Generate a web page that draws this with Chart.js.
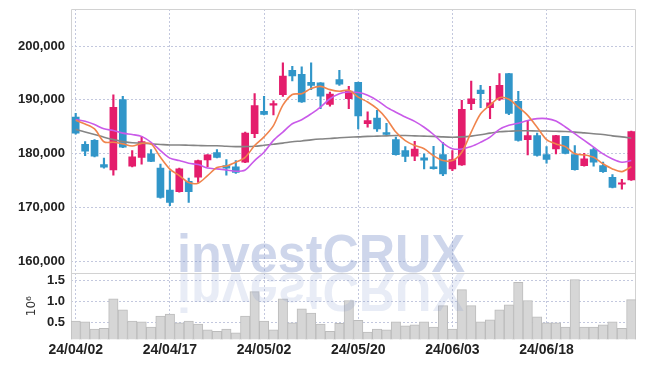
<!DOCTYPE html>
<html>
<head>
<meta charset="utf-8">
<script src="https://cdn.jsdelivr.net/npm/chart.js@4.4.1/dist/chart.umd.min.js"></script>
<style>
  html, body { margin: 0; padding: 0; background: #fff; }
  #wrap { width: 645px; height: 366px; }
</style>
</head>
<body>
<div id="wrap"><canvas id="myChart" width="645" height="366"></canvas></div>
<script>
// trading days shown on the chart
const dates = [
  "24/04/02","24/04/03","24/04/04","24/04/05","24/04/08","24/04/09","24/04/11","24/04/12","24/04/15","24/04/16",
  "24/04/17","24/04/18","24/04/19","24/04/22","24/04/23","24/04/24","24/04/25","24/04/26","24/04/29","24/04/30",
  "24/05/02","24/05/03","24/05/07","24/05/08","24/05/09","24/05/10","24/05/13","24/05/14","24/05/16","24/05/17",
  "24/05/20","24/05/21","24/05/22","24/05/23","24/05/24","24/05/27","24/05/28","24/05/29","24/05/30","24/05/31",
  "24/06/03","24/06/04","24/06/05","24/06/07","24/06/10","24/06/11","24/06/12","24/06/13","24/06/14","24/06/17",
  "24/06/18","24/06/19","24/06/20","24/06/21","24/06/24","24/06/25","24/06/26","24/06/27","24/06/28","24/07/01"
];

const openP = [
  186800,181700,182450,177950,176950,190050,177650,179300,179950,177300,
  173200,172900,174850,175600,178800,180200,177750,177550,178400,183700,
  187850,189000,190950,195500,194750,193250,193150,189150,193750,190200,
  193250,185550,186600,183900,182600,180550,179500,179200,177550,179800,
  177150,177900,189300,191800,188550,190100,194900,189700,182600,183350,
  179800,180850,183200,179800,177750,180750,177750,175600,174300,175100
];
const highP = [
  187500,182250,182600,179150,190950,190650,180550,183200,180750,178050,
  176800,177300,175450,178800,179800,180750,178900,178700,184000,191150,
  190650,189800,196900,196250,196150,196900,193200,191450,195500,192500,
  193300,187750,188050,185650,183050,181300,182300,179950,181350,182100,
  180550,189900,193500,192700,192500,194900,194950,191600,186150,183800,
  181300,183400,183200,181500,180050,181050,178400,176100,175200,184200
];
const lowP = [
  183600,179600,179400,177300,176000,181100,177500,178050,178500,171700,
  170300,172800,170900,174650,177550,179200,176000,176300,178300,182950,
  187200,187200,190650,193500,189500,191900,188350,188800,192700,188350,
  184600,184900,184100,183500,179700,178500,178700,177150,177100,175900,
  176800,177800,188150,188550,186500,189900,187250,182300,179750,179500,
  178200,179950,179950,176900,177650,177650,176500,173600,173400,175000
];
const closeP = [
  183800,180450,179500,177450,188600,181200,179400,182250,178550,171850,
  170900,177150,172900,178700,179750,179300,177300,176500,183800,188950,
  187300,189100,194400,194450,189600,192700,190700,191050,192900,191650,
  187000,186150,184600,183550,179800,179450,180850,178750,177200,176200,
  178900,188250,190200,191150,189450,192700,187450,182450,183350,179650,
  178900,183350,180050,177000,179000,178400,176650,173700,174400,184100
];

// moving averages
const ma5 = [
  186200,185500,184600,182200,182100,181800,181400,181900,181800,179300,
  177100,175900,174600,174500,175900,177400,177700,178400,179300,181500,
  183100,185200,189000,191000,191150,192100,192500,191900,191600,191800,
  190500,189600,188350,186500,184000,182400,181500,180900,179600,178700,
  178700,180250,184000,187400,189000,190400,190100,188650,187100,184900,
  182600,181800,181300,179950,179750,179300,178100,177150,176650,177550
];
const ma20 = [
  186350,186000,185400,184600,184300,183800,183550,183200,182100,180550,
  179150,178700,178200,177950,177300,177150,176950,176700,176950,178700,
  180250,182450,184000,185550,186300,187400,188650,190200,191150,191450,
  191350,190850,189900,188650,187700,186800,186000,184900,183550,181950,
  180900,180850,181300,182100,183050,184500,185250,185650,186150,186500,
  186500,186050,184950,183700,182450,181200,179950,179000,178400,178700
];
const ma60 = [
  184500,184000,183550,183050,182600,182250,182000,181950,181800,181700,
  181600,181600,181550,181500,181450,181450,181350,181300,181300,181350,
  181550,181750,181950,182200,182350,182550,182700,182800,182950,183050,
  183100,183200,183250,183300,183350,183350,183300,183250,183200,183100,
  183050,183100,183250,183500,183800,184050,184150,184250,184250,184200,
  184200,184150,184100,184000,183850,183700,183550,183300,183100,182850
];

// volume, millions of shares
const volume = [
  0.53,0.51,0.34,0.36,1.06,0.80,0.53,0.51,0.39,0.65,
  0.70,0.49,0.53,0.46,0.32,0.29,0.34,0.25,0.65,1.23,
  0.53,0.32,1.06,0.49,0.82,0.72,0.46,0.29,0.48,1.02,
  0.55,0.27,0.34,0.32,0.51,0.42,0.44,0.51,0.39,0.90,
  0.34,1.28,0.90,0.51,0.56,0.80,0.92,1.45,1.02,0.63,
  0.49,0.49,0.39,1.52,0.39,0.39,0.44,0.51,0.36,1.04
];

const priceTicks = [160000, 170000, 180000, 190000, 200000];
const volTicks = [0.5, 1.0, 1.5];

const UP = "#e41d6c";
const DOWN = "#3196c9";
const GRID = "#c3c8de";
const yFont = { family: '"Liberation Sans", Arial, sans-serif', size: 13, weight: "bold" };
const xFont = { family: '"Liberation Sans", Arial, sans-serif', size: 14, weight: "bold" };

var candleColors = openP.map((o, i) => (closeP[i] >= o ? UP : DOWN));

// frame lines and the watermark
const framePlugin = {
  id: "framePlugin",
  beforeDatasetsDraw(chart) {
    const ctx = chart.ctx;
    const a = chart.chartArea;
    const sep = chart.scales.yVol.top;
    ctx.save();
    ctx.strokeStyle = "#d2d2d2";
    ctx.lineWidth = 1;
    ctx.beginPath();
    ctx.moveTo(a.left + 0.5, a.bottom);
    ctx.lineTo(a.left + 0.5, a.top + 0.5);
    ctx.lineTo(a.right - 0.5, a.top + 0.5);
    ctx.lineTo(a.right - 0.5, a.bottom);
    ctx.moveTo(a.left, Math.round(sep) + 0.5);
    ctx.lineTo(a.right, Math.round(sep) + 0.5);
    ctx.stroke();
    ctx.restore();
  },
  afterDatasetsDraw(chart) {
    const ctx = chart.ctx;
    const a = chart.chartArea;
    const base = chart.scales.yVol.top - 1;
    const cx = a.left + 250;
    ctx.save();
    ctx.font = 'bold 53px "Liberation Sans", sans-serif';
    ctx.textAlign = "center";
    ctx.textBaseline = "alphabetic";
    ctx.fillStyle = "rgba(120,140,200,0.36)";
    ctx.fillText("investCRUX", cx, base, 288);
    ctx.translate(0, 2 * base + 2);
    ctx.scale(1, -1);
    ctx.fillStyle = "rgba(120,140,200,0.17)";
    ctx.fillText("investCRUX", cx, base, 288);
    ctx.restore();
  },
};

function fixAxis(s) {
  s.width = 71;
  s.paddingTop = 0;
  s.paddingBottom = 0;
}

function drawChart() {
  const ctx = document.getElementById("myChart");
  new Chart(ctx, {
    data: {
      labels: dates,
      datasets: [
        { type: "line", label: "MA5", data: ma5, yAxisID: "y", borderColor: "#f0844c", borderWidth: 1.6, pointRadius: 0, tension: 0.3, order: 0 },
        { type: "line", label: "MA20", data: ma20, yAxisID: "y", borderColor: "#c95ae9", borderWidth: 1.6, pointRadius: 0, tension: 0.3, order: 0 },
        { type: "line", label: "MA60", data: ma60, yAxisID: "y", borderColor: "#858585", borderWidth: 1.6, pointRadius: 0, tension: 0.3, order: 0 },
        {
          type: "bar", label: "body", yAxisID: "y", order: 1, grouped: false,
          data: openP.map((o, i) => [o, closeP[i]]),
          backgroundColor: candleColors, borderWidth: 0, barThickness: 7, minBarLength: 1.5,
        },
        {
          type: "bar", label: "wick", yAxisID: "y", order: 2, grouped: false,
          data: lowP.map((l, i) => [l, highP[i]]),
          backgroundColor: candleColors, borderWidth: 0, barThickness: 1.5,
        },
        {
          type: "bar", label: "volume", yAxisID: "yVol", order: 3, grouped: false,
          data: volume, backgroundColor: "#d6d6d6", borderColor: "#bcbcbc", borderWidth: 1,
          barPercentage: 1, categoryPercentage: 1,
        },
      ],
    },
    options: {
      responsive: false,
      animation: false,
      layout: { padding: { top: 9, right: 9, bottom: 4, left: 0 } },
      plugins: { legend: { display: false }, tooltip: { enabled: false } },
      scales: {
        x: {
          offset: true,
          grid: { offset: false, drawTicks: false, color: (c) => (c.index % 10 === 0 ? GRID : "rgba(0,0,0,0)") },
          border: { display: false, dash: [2, 2] },
          ticks: {
            autoSkip: false, maxRotation: 0, padding: 3, color: "#222", font: xFont,
            callback: (v, i) => (i % 10 === 0 ? dates[i] : ""),
          },
        },
        y: {
          position: "left", stack: "panes", stackWeight: 4, weight: 1,
          min: 157750, max: 206900,
          afterBuildTicks: (s) => { s.ticks = priceTicks.map((v) => ({ value: v })); },
          afterFit: fixAxis,
          grid: { color: GRID, drawTicks: false },
          border: { display: false, dash: [2, 2] },
          ticks: { autoSkip: false, padding: 6, color: "#222", font: yFont, callback: (v) => v.toLocaleString("en-US") },
        },
        yVol: {
          position: "left", stack: "panes", stackWeight: 1, weight: 0,
          min: 0.1, max: 1.67,
          afterBuildTicks: (s) => { s.ticks = volTicks.map((v) => ({ value: v })); },
          afterFit: fixAxis,
          grid: { color: GRID, drawTicks: false },
          border: { display: false, dash: [2, 2] },
          title: { display: true, text: "10\u2076", color: "#333", font: { family: "DejaVu Sans", size: 12 }, padding: { top: 25, bottom: 0 } },
          ticks: { autoSkip: false, padding: 6, color: "#222", font: yFont, callback: (v) => v.toFixed(1) },
        },
      },
    },
    plugins: [framePlugin],
  });
}

window.onload = function () {
  drawChart();
};
</script>
</body>
</html>
